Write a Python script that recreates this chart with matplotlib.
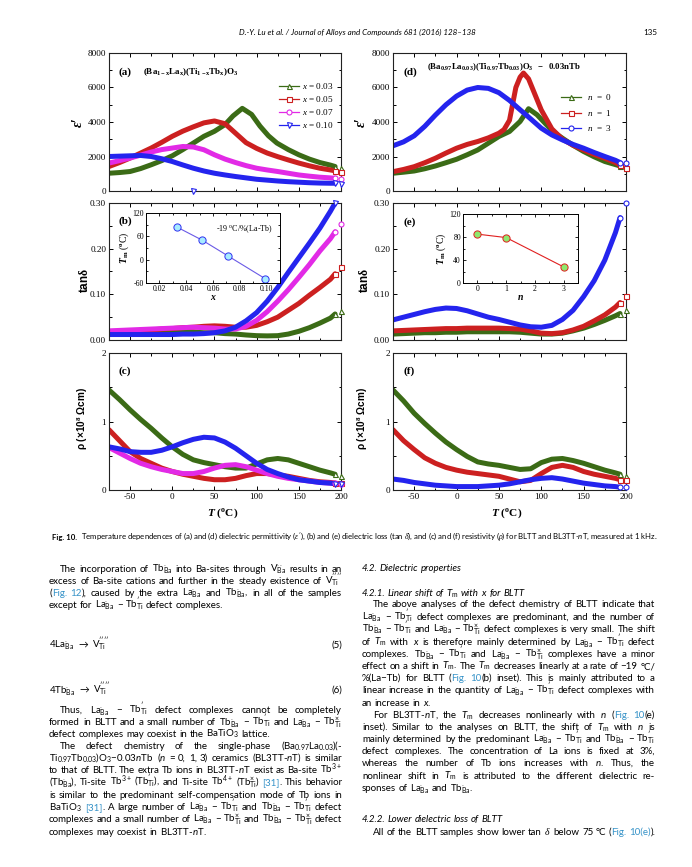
import matplotlib
matplotlib.use("Agg")
import matplotlib.pyplot as plt
from matplotlib.lines import Line2D
from matplotlib.ticker import MultipleLocator, FormatStrFormatter

W, H = 692, 867

# ---------------- chart data ----------------
T_grid = [-75, -62.5, -50, -37.5, -25, -12.5, 0, 12.5, 25, 37.5, 50, 62.5, 75, 87.5,
          100, 112.5, 125, 137.5, 150, 162.5, 175, 187.5, 193, 200]

# (a) permittivity, BLTT
a_T_003 = [-75, -62.5, -50, -37.5, -25, -12.5, 0, 12.5, 25, 37.5, 50, 62.5, 72, 83, 94,
           104, 114, 124, 137.5, 150, 162.5, 175, 187.5, 193, 200]
a_eps_003 = [1030, 1070, 1130, 1300, 1520, 1760, 2040, 2400, 2780, 3170, 3460, 3850, 4350,
             4790, 4440, 3760, 3200, 2780, 2400, 2100, 1850, 1650, 1500, 1420, 1330]
a_eps_005 = [1420, 1650, 1910, 2200, 2490, 2820, 3170, 3470, 3720, 3950, 4060, 3900, 3350,
             2800, 2470, 2200, 1990, 1800, 1620, 1460, 1320, 1220, 1170, 1090]
a_eps_007 = [1620, 1760, 1910, 2080, 2260, 2400, 2490, 2580, 2550, 2390, 2100, 1850, 1650,
             1470, 1320, 1220, 1130, 1030, 930, 860, 800, 760, 740, 720]
a_eps_010 = [2000, 2020, 2040, 2060, 2000, 1870, 1710, 1510, 1320, 1160, 1030, 930, 840,
             760, 680, 630, 580, 540, 510, 480, 460, 450, 450, 430]
a_stray_T = [24]
a_stray_eps = [0]

# (b) tan delta, BLTT
b_tan_003 = [0.018, 0.018, 0.018, 0.018, 0.018, 0.018, 0.018, 0.017, 0.017, 0.016, 0.016,
             0.014, 0.013, 0.011, 0.0095, 0.009, 0.0095, 0.013, 0.019, 0.027, 0.037, 0.048,
             0.057, 0.064]
b_tan_005 = [0.017, 0.019, 0.020, 0.021, 0.022, 0.024, 0.025, 0.027, 0.028, 0.030, 0.031,
             0.030, 0.028, 0.028, 0.032, 0.040, 0.050, 0.065, 0.080, 0.098, 0.115, 0.133,
             0.145, 0.160]
b_tan_007 = [0.020, 0.021, 0.022, 0.023, 0.024, 0.025, 0.026, 0.027, 0.028, 0.027, 0.026,
             0.024, 0.024, 0.030, 0.043, 0.062, 0.085, 0.110, 0.137, 0.165, 0.195, 0.222,
             0.237, 0.255]
b_tan_010 = [0.012, 0.012, 0.012, 0.012, 0.012, 0.012, 0.012, 0.013, 0.013, 0.014, 0.016,
             0.020, 0.028, 0.042, 0.060, 0.085, 0.115, 0.148, 0.180, 0.212, 0.245, 0.282,
             0.300, 0.330]

# (c) resistivity, BLTT
c_rho_003 = [1.46, 1.32, 1.17, 1.03, 0.90, 0.76, 0.63, 0.52, 0.44, 0.40, 0.37, 0.34, 0.32,
             0.32, 0.38, 0.44, 0.46, 0.44, 0.39, 0.34, 0.29, 0.25, 0.23, 0.21]
c_rho_005 = [0.88, 0.72, 0.56, 0.46, 0.39, 0.32, 0.27, 0.23, 0.20, 0.17, 0.15, 0.15, 0.17,
             0.21, 0.24, 0.24, 0.22, 0.20, 0.17, 0.14, 0.12, 0.11, 0.10, 0.10]
c_rho_007 = [0.62, 0.54, 0.46, 0.39, 0.34, 0.30, 0.27, 0.24, 0.24, 0.27, 0.32, 0.36, 0.37,
             0.34, 0.29, 0.24, 0.20, 0.17, 0.15, 0.13, 0.11, 0.10, 0.10, 0.09]
c_rho_010 = [0.63, 0.60, 0.56, 0.55, 0.55, 0.58, 0.63, 0.69, 0.74, 0.77, 0.76, 0.70, 0.61,
             0.50, 0.39, 0.30, 0.24, 0.19, 0.15, 0.13, 0.11, 0.10, 0.09, 0.09]

# (d) permittivity, BL3TT-nT
d_T_n0 = [-75, -62.5, -50, -37.5, -25, -12.5, 0, 12.5, 25, 37.5, 50, 62.5, 75, 85, 95,
          105, 115, 125, 137.5, 150, 162.5, 175, 187.5, 193, 200]
d_eps_n0 = [1030, 1090, 1160, 1290, 1450, 1640, 1840, 2100, 2380, 2770, 3160, 3450, 4030,
            4770, 4420, 3900, 3400, 3060, 2650, 2290, 1980, 1710, 1530, 1450, 1360]
d_T_n1 = [-75, -62.5, -50, -37.5, -25, -12.5, 0, 12.5, 25, 37.5, 50, 56, 62.5, 70, 75, 79,
          85, 90, 100, 112.5, 125, 137.5, 150, 162.5, 175, 187.5, 193, 200]
d_eps_n1 = [1120, 1250, 1410, 1640, 1900, 2200, 2480, 2700, 2870, 3080, 3350, 3560, 4100,
            6000, 6600, 6840, 6500, 5900, 4700, 3600, 3000, 2650, 2380, 2120, 1900, 1650,
            1510, 1360]
d_eps_n3 = [2620, 2850, 3200, 3750, 4400, 5000, 5500, 5850, 6000, 5950, 5700, 5250, 4710,
            4180, 3640, 3250, 2960, 2700, 2480, 2230, 2000, 1780, 1650, 1600]

# (e) tan delta, BL3TT-nT
e_tan_n0 = [0.013, 0.014, 0.015, 0.016, 0.016, 0.017, 0.017, 0.018, 0.018, 0.018, 0.018,
            0.018, 0.017, 0.015, 0.013, 0.013, 0.015, 0.020, 0.026, 0.034, 0.043, 0.053,
            0.058, 0.065]
e_tan_n1 = [0.020, 0.021, 0.022, 0.023, 0.024, 0.025, 0.025, 0.026, 0.026, 0.026, 0.026,
            0.025, 0.024, 0.020, 0.015, 0.014, 0.016, 0.022, 0.030, 0.042, 0.055, 0.072,
            0.082, 0.097]
e_tan_n3 = [0.044, 0.050, 0.056, 0.062, 0.067, 0.070, 0.069, 0.064, 0.057, 0.050, 0.045,
            0.039, 0.033, 0.029, 0.028, 0.032, 0.045, 0.065, 0.095, 0.130, 0.175, 0.235,
            0.268, 0.300]

# (f) resistivity, BL3TT-nT
f_rho_n0 = [1.46, 1.30, 1.12, 0.97, 0.83, 0.70, 0.59, 0.49, 0.41, 0.38, 0.36, 0.33, 0.30,
            0.31, 0.40, 0.45, 0.46, 0.43, 0.39, 0.34, 0.29, 0.25, 0.23, 0.21]
f_rho_n1 = [0.88, 0.72, 0.59, 0.47, 0.39, 0.33, 0.29, 0.26, 0.24, 0.22, 0.20, 0.16, 0.12,
            0.14, 0.24, 0.33, 0.36, 0.33, 0.27, 0.23, 0.20, 0.17, 0.15, 0.14]
f_rho_n3 = [0.16, 0.14, 0.11, 0.09, 0.07, 0.06, 0.05, 0.05, 0.05, 0.06, 0.07, 0.09, 0.12,
            0.15, 0.17, 0.18, 0.16, 0.13, 0.10, 0.08, 0.06, 0.05, 0.04, 0.04]

# insets: Tm vs x and Tm vs n
inset_x = [0.033, 0.052, 0.071, 0.099]
inset_Tm_x = [84, 50, 10, -49]
inset_n = [0, 1, 3]
inset_Tm_n = [85, 79, 28]

labels_x = ["0.03", "0.05", "0.07", "0.10"]
labels_n = ["0", "1", "3"]

GREEN, RED, MAGENTA, BLUE = "#3b6b16", "#cc2020", "#e22ae6", "#2424ee"
LINK = "#3592c8"
INK = "#000000"

plt.rcParams.update({
    "font.family": "Liberation Serif",
    "axes.unicode_minus": False,
    "mathtext.fontset": "custom",
    "mathtext.rm": "Lato",
    "mathtext.tt": "Lato:italic",
    "mathtext.it": "Liberation Serif:italic",
    "mathtext.bf": "Liberation Serif:bold",
    "mathtext.bfit": "Liberation Serif:bold:italic",
    "mathtext.sf": "Liberation Serif",
})

fig = plt.figure(figsize=(W / 100, H / 100), dpi=100)
fig.patch.set_facecolor("white")
renderer = fig.canvas.get_renderer()


def add_ax(l, t, r, b):
    return fig.add_axes([l / W, 1 - b / H, (r - l) / W, (b - t) / H])


def style(ax, ylim, ymaj, ymin, fmt=None, xlabels=False):
    ax.set_xlim(-75, 200)
    ax.set_ylim(*ylim)
    ax.xaxis.set_major_locator(MultipleLocator(50))
    ax.xaxis.set_minor_locator(MultipleLocator(25))
    ax.yaxis.set_major_locator(MultipleLocator(ymaj))
    ax.yaxis.set_minor_locator(MultipleLocator(ymin))
    if fmt:
        ax.yaxis.set_major_formatter(FormatStrFormatter(fmt))
    ax.tick_params(which="both", direction="in", top=True, right=True,
                   labelsize=6.6, width=0.7, pad=2)
    ax.tick_params(which="major", length=3.2)
    ax.tick_params(which="minor", length=1.8)
    if not xlabels:
        ax.tick_params(labelbottom=False)
    for s in ax.spines.values():
        s.set_linewidth(0.8)
        s.set_color("#222222")


def curve(ax, T, y, color, marker):
    ax.plot(T[:-1], y[:-1], color=color, lw=3.6, solid_capstyle="round",
            solid_joinstyle="round", zorder=2)
    top = ax.get_ylim()[1]
    mx = [t for t, v in zip(T[-2:], y[-2:]) if v <= top]
    my = [v for v in y[-2:] if v <= top]
    ax.plot(mx, my, ls="none", marker=marker, ms=3.6, mfc="white", mec=color,
            mew=0.8, clip_on=False, zorder=3)


def handle(color, marker):
    return Line2D([], [], color=color, lw=0.9, marker=marker, ms=3.6, mfc="white",
                  mec=color, mew=0.8)


LX = (109, 341)
RX = (393, 626)
ROWS = [(53, 191), (203, 340), (353, 490)]

# ---- (a) ----
ax = add_ax(LX[0], ROWS[0][0], LX[1], ROWS[0][1])
style(ax, (0, 8000), 2000, 1000)
curve(ax, a_T_003, a_eps_003, GREEN, "^")
curve(ax, T_grid, a_eps_005, RED, "s")
curve(ax, T_grid, a_eps_007, MAGENTA, "o")
curve(ax, T_grid, a_eps_010, BLUE, "v")
ax.plot(a_stray_T, a_stray_eps, ls="none", marker="v", ms=3.6, mfc="white", mec=BLUE,
        mew=0.8, clip_on=False, zorder=4)
ax.text(0.04, 0.86, "(a)", transform=ax.transAxes, fontsize=8, fontweight="bold", va="center")
ax.text(0.147, 0.86, r"$\mathbf{(Ba_{1-x}La_x)(Ti_{1-x}Tb_x)O_3}$", transform=ax.transAxes,
        fontsize=6.5, va="center")
ax.legend([handle(c, m) for c, m in zip([GREEN, RED, MAGENTA, BLUE], ["^", "s", "o", "v"])],
          [r"$x$ = " + s for s in labels_x], loc="upper right", bbox_to_anchor=(0.97, 0.795),
          frameon=False, fontsize=6.6, handlelength=2.2, handletextpad=0.4,
          labelspacing=0.32, borderpad=0, borderaxespad=0)

# ---- (b) ----
ax = add_ax(LX[0], ROWS[1][0], LX[1], ROWS[1][1])
style(ax, (0, 0.30), 0.10, 0.05, "%.2f")
curve(ax, T_grid, b_tan_003, GREEN, "^")
curve(ax, T_grid, b_tan_005, RED, "s")
curve(ax, T_grid, b_tan_007, MAGENTA, "o")
curve(ax, T_grid, b_tan_010, BLUE, "v")
ax.text(0.043, 0.869, "(b)", transform=ax.transAxes, fontsize=8, fontweight="bold", va="center")

ins = add_ax(146, 213, 280, 283)
ins.plot(inset_x, inset_Tm_x, color="#6a5ae6", lw=0.8, marker="o", ms=5.2,
         mfc="#a6ecff", mec="#3232f0", mew=0.7)
ins.set_xlim(0.01, 0.11)
ins.set_ylim(-60, 120)
ins.xaxis.set_major_locator(MultipleLocator(0.02))
ins.xaxis.set_minor_locator(MultipleLocator(0.01))
ins.yaxis.set_major_locator(MultipleLocator(60))
ins.yaxis.set_minor_locator(MultipleLocator(30))
ins.xaxis.set_major_formatter(FormatStrFormatter("%.2f"))
ins.text(0.062, 72, "-19 $^{\\mathsf{o}}$C/%(La-Tb)", fontsize=5.8)
ins.set_xlabel(r"$\mathbfit{x}$", fontsize=7, labelpad=0)
ins.set_ylabel(r"$\mathbfit{T}_{\mathbf{m}}$ ($\mathbf{^o}$C)", fontsize=7, labelpad=1)

# ---- (c) ----
ax = add_ax(LX[0], ROWS[2][0], LX[1], ROWS[2][1])
style(ax, (0, 2), 1, 0.5, xlabels=True)
curve(ax, T_grid, c_rho_003, GREEN, "^")
curve(ax, T_grid, c_rho_005, RED, "s")
curve(ax, T_grid, c_rho_007, MAGENTA, "o")
curve(ax, T_grid, c_rho_010, BLUE, "v")
ax.text(0.043, 0.869, "(c)", transform=ax.transAxes, fontsize=8, fontweight="bold", va="center")

# ---- (d) ----
ax = add_ax(RX[0], ROWS[0][0], RX[1], ROWS[0][1])
style(ax, (0, 8000), 2000, 1000)
curve(ax, d_T_n0, d_eps_n0, GREEN, "^")
curve(ax, d_T_n1, d_eps_n1, RED, "s")
curve(ax, T_grid, d_eps_n3, BLUE, "o")
ax.text(0.043, 0.86, "(d)", transform=ax.transAxes, fontsize=8, fontweight="bold", va="center")
ax.text(0.146, 0.895,
        r"$\mathbf{(Ba_{0.97}La_{0.03})(Ti_{0.97}Tb_{0.03})O_3\ \ -\ \ 0.03nTb}$",
        transform=ax.transAxes, fontsize=6.3, va="center")
ax.legend([handle(c, m) for c, m in zip([GREEN, RED, BLUE], ["^", "s", "o"])],
          [r"$n$  =  " + s for s in labels_n], loc="upper right", bbox_to_anchor=(0.94, 0.715),
          frameon=False, fontsize=6.6, handlelength=2.2, handletextpad=0.6,
          labelspacing=0.6, borderpad=0, borderaxespad=0)

# ---- (e) ----
ax = add_ax(RX[0], ROWS[1][0], RX[1], ROWS[1][1])
style(ax, (0, 0.30), 0.10, 0.05, "%.2f")
curve(ax, T_grid, e_tan_n0, GREEN, "^")
curve(ax, T_grid, e_tan_n1, RED, "s")
curve(ax, T_grid, e_tan_n3, BLUE, "o")
ax.text(0.043, 0.861, "(e)", transform=ax.transAxes, fontsize=8, fontweight="bold", va="center")

ins = add_ax(463, 214, 578, 283)
ins.plot(inset_n, inset_Tm_n, color="#e02020", lw=0.8, marker="o", ms=5.2,
         mfc="#8ee86e", mec="#e02020", mew=0.7)
ins.set_xlim(-0.5, 3.5)
ins.set_ylim(0, 120)
ins.xaxis.set_major_locator(MultipleLocator(1))
ins.xaxis.set_minor_locator(MultipleLocator(0.5))
ins.yaxis.set_major_locator(MultipleLocator(40))
ins.yaxis.set_minor_locator(MultipleLocator(20))
ins.set_xlabel(r"$\mathbfit{n}$", fontsize=7, labelpad=0)
ins.set_ylabel(r"$\mathbfit{T}_{\mathbf{m}}$ ($\mathbf{^o}$C)", fontsize=7, labelpad=1)

# ---- (f) ----
ax = add_ax(RX[0], ROWS[2][0], RX[1], ROWS[2][1])
style(ax, (0, 2), 1, 0.5, xlabels=True)
curve(ax, T_grid, f_rho_n0, GREEN, "^")
curve(ax, T_grid, f_rho_n1, RED, "s")
curve(ax, T_grid, f_rho_n3, BLUE, "o")
ax.text(0.043, 0.869, "(f)", transform=ax.transAxes, fontsize=8, fontweight="bold", va="center")

for a in fig.axes:
    if a.get_position().width < 0.25:  # insets
        a.tick_params(which="both", direction="in", top=True, right=True,
                      labelsize=5.6, width=0.6, pad=1.5)
        a.tick_params(which="major", length=2.4)
        a.tick_params(which="minor", length=1.4)
        for s in a.spines.values():
            s.set_linewidth(0.7)

# axis titles
for x in (78, 361):
    fig.text(x / W, 1 - 122 / H, "ε′", rotation=90, fontsize=10, fontweight="bold",
             style="italic", ha="center", va="center")
for x in (85, 365):
    fig.text(x / W, 1 - 280 / H, r"tan$\mathbf{\delta}$", rotation=90, fontsize=8.5,
             family="Liberation Sans", fontweight="bold", ha="center", va="center")
for x in (83, 363):
    fig.text(x / W, 1 - 418 / H, r"ρ (×10$^{\mathbf{8}}$ Ωcm)", rotation=90, fontsize=7.2,
             family="Liberation Sans", fontweight="bold", ha="center", va="center")
for x in (223, 507):
    fig.text(x / W, 1 - 513 / H, r"$\mathbfit{T}$ ($\mathbf{^o}$C)", fontsize=8.2,
             fontweight="bold", ha="center", va="center")

# ---------------- page text ----------------
BODY = ["Lato", "DejaVu Sans"]
# no spaces inside these: lines are split into words on spaces
SUBS = [
    ("{VTi}", r"$_{\mathrm{Ti}}^{\prime\prime\prime\prime}$"),
    ("{VBa}", r"$_{\mathrm{Ba}}^{\cdot\cdot}$"),
    ("{Ba.}", r"$_{\mathrm{Ba}}^{\cdot}$"),
    ("{Ti'}", r"$_{\mathrm{Ti}}^{\prime}$"),
    ("{Tix}", r"$_{\mathrm{Ti}}^{\times}$"),
    ("{Tm}", r"$\mathtt{T}_{\mathrm{m}}$"),
    ("{n}", r"$\mathtt{n}$"),
    ("{x}", r"$\mathtt{x}$"),
    ("{->}", r"$\rightarrow$"),
]


def expand(s):
    for k, v in SUBS:
        s = s.replace(k, v)
    return s


def segments(word):
    out, cur, blue = [], "", False
    for ch in word:
        if ch in "«»":
            out.append((cur, blue))
            cur, blue = "", ch == "«"
        else:
            cur += ch
    out.append((cur, blue))
    return [(t, b) for t, b in out if t]


def width_of(s, size, style="normal", weight="normal"):
    t = fig.text(0, 0, s, fontsize=size, family=BODY, style=style, fontweight=weight)
    w = t.get_window_extent(renderer).width
    t.remove()
    return w


def place(s, x0, x1, y, size, justify=True, style="normal"):
    words = expand(s).split(" ")
    for attempt in range(3):
        placed = []
        for w in words:
            arts = []
            for txt, blue in segments(w):
                a = fig.text(0, 1 - (y + 3) / H, txt, fontsize=size, family=BODY,
                             style=style, color=LINK if blue else INK, va="baseline")
                arts.append((a, a.get_window_extent(renderer).width))
            placed.append(arts)
        widths = [sum(w for _, w in arts) for arts in placed]
        space = width_of("n n", size, style) - width_of("nn", size, style)
        need = sum(widths) + 0.75 * space * (len(words) - 1)
        if not justify or need <= x1 - x0 or attempt == 2:
            break
        # line too long at this size: shrink this line only and retry
        for arts in placed:
            for a, _ in arts:
                a.remove()
        size *= (x1 - x0) / need
    if justify and len(words) > 1:
        gap = (x1 - x0 - sum(widths)) / (len(words) - 1)
    else:
        gap = space
    x = x0
    for arts, wsum in zip(placed, widths):
        xx = x
        for a, w in arts:
            a.set_x(xx / W)
            xx += w
        x += wsum + gap


IND = 11
left_col = [
    ("The incorporation of Tb{Ba.} into Ba-sites through V{VBa} results in an", 569, IND, True),
    ("excess of Ba-site cations and further in the steady existence of V{VTi}", 581, 0, True),
    ("(«Fig.» «12»), caused by the extra La{Ba.} and Tb{Ba.}, in all of the samples", 593, 0, True),
    ("except for La{Ba.} − Tb{Ti'} defect complexes.", 605, 0, False),
    ("Thus, La{Ba.} − Tb{Ti'} defect complexes cannot be completely", 710, IND, True),
    ("formed in BLTT and a small number of Tb{Ba.} − Tb{Ti'} and La{Ba.} − Tb{Tix}", 722, 0, True),
    ("defect complexes may coexist in the BaTiO$_3$ lattice.", 734, 0, False),
    ("The defect chemistry of the single-phase (Ba$_{0.97}$La$_{0.03}$)(-", 746, IND, True),
    ("Ti$_{0.97}$Tb$_{0.03}$)O$_3$−0.03{n}Tb ({n} = 0, 1, 3) ceramics (BL3TT-{n}T) is similar", 758, 0, True),
    ("to that of BLTT. The extra Tb ions in BL3TT-{n}T exist as Ba-site Tb$^{3+}$", 770, 0, True),
    ("(Tb{Ba.}), Ti-site Tb$^{3+}$ (Tb{Ti'}), and Ti-site Tb$^{4+}$ (Tb{Tix}) «[31]». This behavior", 782, 0, True),
    ("is similar to the predominant self-compensation mode of Tb ions in", 795, 0, True),
    ("BaTiO$_3$ «[31]». A large number of La{Ba.} − Tb{Ti'} and Tb{Ba.} − Tb{Ti'} defect", 807, 0, True),
    ("complexes and a small number of La{Ba.} − Tb{Tix} and Tb{Ba.} − Tb{Tix} defect", 819, 0, True),
    ("complexes may coexist in BL3TT-{n}T.", 832, 0, False),
]
right_col = [
    ("The above analyses of the defect chemistry of BLTT indicate that", 604, IND, True),
    ("La{Ba.} − Tb{Ti'} defect complexes are predominant, and the number of", 617, 0, True),
    ("Tb{Ba.} − Tb{Ti'} and La{Ba.} − Tb{Tix} defect complexes is very small. The shift", 629, 0, True),
    ("of {Tm} with {x} is therefore mainly determined by La{Ba.} − Tb{Ti'} defect", 642, 0, True),
    ("complexes. Tb{Ba.} − Tb{Ti'} and La{Ba.} − Tb{Tix} complexes have a minor", 654, 0, True),
    ("effect on a shift in {Tm}. The {Tm} decreases linearly at a rate of −19 °C/", 666, 0, True),
    ("%(La−Tb) for BLTT («Fig.» «10»(b) inset). This is mainly attributed to a", 678, 0, True),
    ("linear increase in the quantity of La{Ba.} − Tb{Ti'} defect complexes with", 690, 0, True),
    ("an increase in {x}.", 703, 0, False),
    ("For BL3TT-{n}T, the {Tm} decreases nonlinearly with {n} («Fig.» «10»(e)", 715, IND, True),
    ("inset). Similar to the analyses on BLTT, the shift of {Tm} with {n} is", 727, 0, True),
    ("mainly determined by the predominant La{Ba.} − Tb{Ti'} and Tb{Ba.} − Tb{Ti'}", 739, 0, True),
    ("defect complexes. The concentration of La ions is fixed at 3%,", 751, 0, True),
    ("whereas the number of Tb ions increases with {n}. Thus, the", 763, 0, True),
    ("nonlinear shift in {Tm} is attributed to the different dielectric re-", 776, 0, True),
    ("sponses of La{Ba.} and Tb{Ba.}.", 788, 0, False),
    ("All of the BLTT samples show lower tan $\\delta$ below 75 °C («Fig.» «10(e)»).", 832, IND, False),
]
headings = [
    ("4.2. Dielectric properties", 568),
    ("4.2.1. Linear shift of {Tm} with {x} for BLTT", 593),
    ("4.2.2. Lower dielectric loss of BLTT", 819),
]

LCOL = (49, 342)
RCOL = (362, 655)

# body size set by the plain (formula-free) justified lines
ratios = []
for col, (x0, x1) in ((left_col, LCOL), (right_col, RCOL)):
    for s, y, ind, just in col:
        if just and "{" not in s and "$" not in s:
            plain = s.replace("«", "").replace("»", "")
            ratios.append((x1 - x0 - ind) / width_of(plain, 10))
BODY_SIZE = 10 * min(ratios) * 0.99

for col, (x0, x1) in ((left_col, LCOL), (right_col, RCOL)):
    for s, y, ind, just in col:
        place(s, x0 + ind, x1, y, BODY_SIZE, justify=just)
for s, y in headings:
    place(s, RCOL[0], RCOL[1], y, BODY_SIZE, justify=False, style="italic")

# equations
for s, num, y in (("4La{Ba.} {->} V{VTi}", "(5)", 645), ("4Tb{Ba.} {->} V{VTi}", "(6)", 690)):
    place(s, LCOL[0], LCOL[1], y, BODY_SIZE, justify=False)
    fig.text(LCOL[1] / W, 1 - (y + 3) / H, num, fontsize=BODY_SIZE, family=BODY,
             ha="right", va="baseline", color=INK)

# caption
cap_bold = "Fig. 10."
cap_rest = ("Temperature dependences of (a) and (d) dielectric permittivity ($\\varepsilon'$), "
            "(b) and (e) dielectric loss (tan $\\delta$), and (c) and (f) resistivity ($\\rho$) "
            "for BLTT and BL3TT-$\\mathtt{n}$T, measured at 1 kHz.")
wb = width_of(cap_bold, 10, weight="bold")
wr = width_of(cap_rest, 10)
cap_size = 10 * (655 - 52) / (wb + wr + 4 * 10 / 6)
wb = width_of(cap_bold, cap_size, weight="bold")
fig.text(52 / W, 1 - 540 / H, cap_bold, fontsize=cap_size, family=BODY, fontweight="bold",
         va="baseline", color=INK)
fig.text((52 + wb + 4) / W, 1 - 540 / H, cap_rest, fontsize=cap_size, family=BODY,
         va="baseline", color=INK)

# running header
head = "D.-Y. Lu et al. / Journal of Alloys and Compounds 681 (2016) 128–138"
head_size = 10 * (474 - 239) / width_of(head, 10, style="italic")
fig.text(239 / W, 1 - 35 / H, head, fontsize=head_size, family=BODY, style="italic",
         va="baseline", color=INK)
fig.text(657 / W, 1 - 35 / H, "135", fontsize=head_size, family=BODY, ha="right",
         va="baseline", color=INK)

fig.savefig("out.png", dpi=100)
